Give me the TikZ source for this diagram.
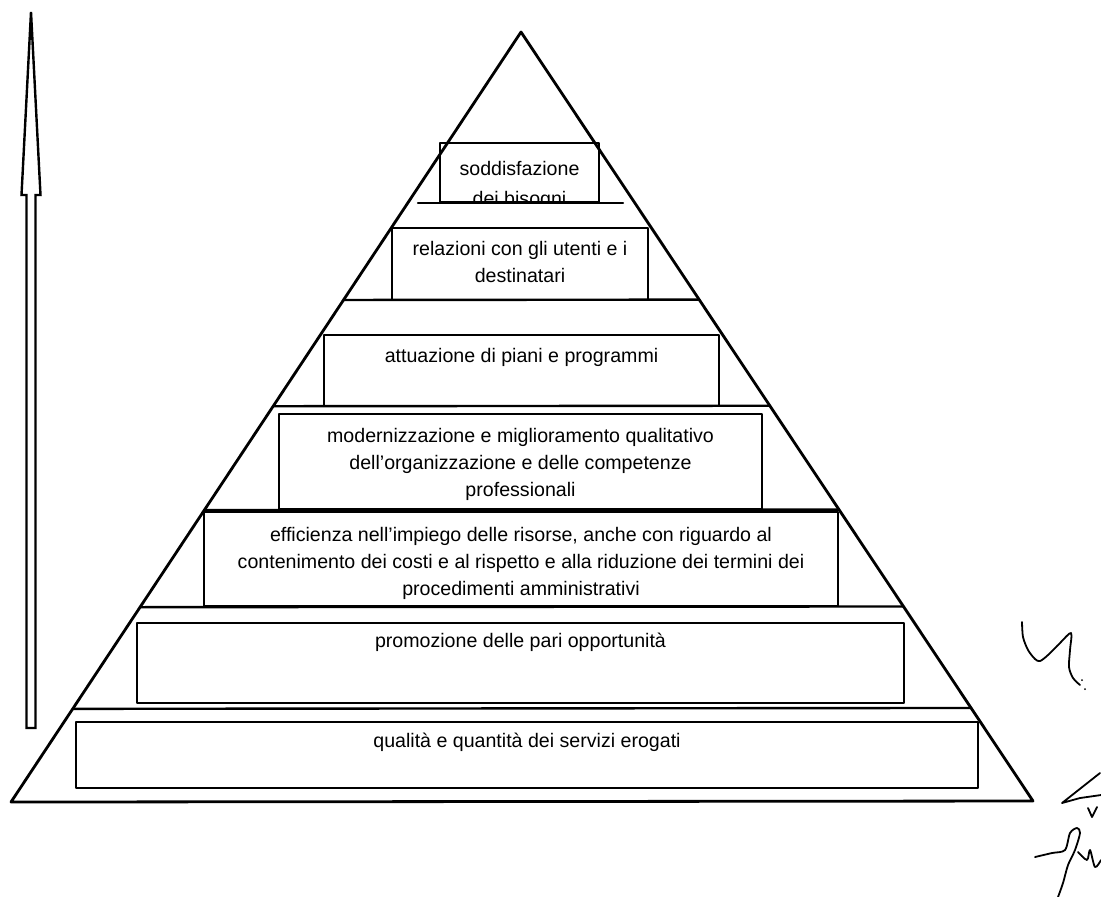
\documentclass[tikz,border=0pt]{standalone}
\usepackage{fontspec}
\setmainfont{Liberation Sans}
\usetikzlibrary{calc}

\tikzset{
    tiertext/.style={anchor=north, inner sep=0pt, align=center, font=\fontsize{9.8pt}{13.5pt}\selectfont},
}

\begin{document}
\begin{tikzpicture}[line cap=round,line join=round,x=0.5pt,y=-0.5pt]
    \useasboundingbox (0,0) rectangle (1101,896);

    % hollow arrow on the left
    \draw [line width=1.2pt, line join=miter] (26.5,728) -- (26.5,195) -- (21.5,195) -- (31,12) -- (40.5,195) -- (35.5,195) -- (35.5,728) -- cycle;

    % pyramid
    \coordinate (apex) at (521,32);
    \coordinate (bl) at (11,802);
    \coordinate (br) at (1033,801);
    \draw [line width=1.4pt] (apex) -- (bl) -- (br) -- cycle;

    \draw [line width=1.2pt] (418,203) -- (623,203);
    \foreach \t in {0.348,0.486,0.621,0.747,0.879}
        \draw [line width=1.2pt] ($(apex)!\t!(bl)$) -- ($(apex)!\t!(br)$);

    % boxes
    \draw [line width=1.2pt] (440,143) rectangle (599,202);
    \draw [line width=1.2pt] (392,228) rectangle (648,300);
    \draw [line width=1.2pt] (324,335) rectangle (719,406);
    \draw [line width=1.2pt] (279,414) rectangle (762,509);
    \draw [line width=1.2pt] (204,512) rectangle (838,606);
    \draw [line width=1.2pt] (137,623) rectangle (904,703);
    \draw [line width=1.2pt] (76,722) rectangle (978,788);

    \begin{scope}
        \clip (440,143) rectangle (599,200);
        \node [tiertext, font=\fontsize{9.8pt}{15pt}\selectfont] (bisogni) at (519.5,161) {soddisfazione\\dei bisogni};
    \end{scope}
    \node [tiertext] (relazioni) at (520,241) {relazioni con gli utenti e i\\destinatari};
    \node [tiertext] (piani) at (521.5,348) {attuazione di piani e programmi};
    \node [tiertext] (organizzazione) at (520.5,428) {modernizzazione e miglioramento qualitativo\\dell’organizzazione e delle competenze\\professionali};
    \node [tiertext] (risorse) at (521,527) {efficienza nell’impiego delle risorse, anche con riguardo al\\contenimento dei costi e al rispetto e alla riduzione dei termini dei\\procedimenti amministrativi};
    \node [tiertext] (opportunita) at (520.5,633) {promozione delle pari opportunità};
    \node [tiertext] (servizi) at (527,733) {qualità e quantità dei servizi erogati};

    % handwritten marks
    \draw [line width=0.9pt] plot [smooth] coordinates {(1022,622) (1023,637) (1028,650) (1035,659) (1040,661) (1048,655) (1060,643) (1071,633) (1070,650) (1069,667) (1073,678) (1080,685)};
    \fill (1082,680) circle (1); \fill (1085,689) circle (1);
    \draw [line width=0.9pt] (1100,773) -- (1062,803) -- (1080,798) -- (1101,795);
    \draw [line width=0.9pt] (1088,808) -- (1092,817) -- (1097,807);
    \draw [line width=0.9pt] plot [smooth] coordinates {(1035,857) (1052,853) (1065,850) (1070,833) (1077,828) (1080,833) (1075,850) (1068,865) (1063,883) (1058,897)};
    \draw [line width=0.9pt] plot [smooth] coordinates {(1078,852) (1087,860) (1090,850) (1095,867) (1101,860)};
\end{tikzpicture}
\end{document}
